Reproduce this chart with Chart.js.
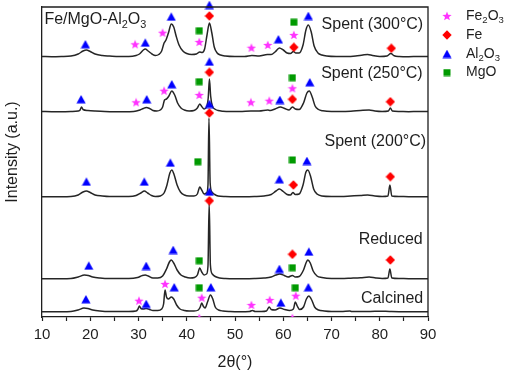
<!DOCTYPE html>
<html><head><meta charset="utf-8">
<script src="https://cdn.jsdelivr.net/npm/chart.js@4.4.1/dist/chart.umd.min.js"></script>
<style>html,body{margin:0;padding:0;background:#fff}#wrap{width:510px;height:373px;position:relative}</style>
</head><body><div id="wrap"><canvas id="c"></canvas></div>
<script>
// ---------------- DATA ----------------
const sampleNames = ['Spent (300°C)', 'Spent (250°C)', 'Spent (200°C)', 'Reduced', 'Calcined'];
const offsets = [260, 205, 120, 38, 5];
const xTicks = [10, 20, 30, 40, 50, 60, 70, 80, 90];

const spent300 = [[10,0.5],[12,0.3],[14,0.5],[16,1],[17.5,3],[18.5,6],[19.2,7],[20,5.5],[21,3],[22.5,1.5],[24,1],[26,0.5],[28,0.5],[29.5,1.5],[30.2,3],[31,7],[31.4,8],[32,6],[32.8,3],[33.5,1.5],[34.2,2.5],[34.8,6],[35.3,14],[35.7,17],[36.2,24],[36.8,33],[37.3,30],[37.8,21],[38.4,12],[39.2,6],[40,3.5],[41,2.5],[42,3],[42.7,5],[43.2,4.5],[43.7,8],[44.2,22],[44.7,34],[45.2,24],[45.7,10],[46.3,4],[47,2],[48,1],[50,0.5],[52,0.5],[53.5,1.5],[55,1],[56.7,2.5],[57.5,2.5],[58.3,5],[59.2,9],[60,7],[60.8,4],[61.5,3.5],[62.1,5.5],[62.6,4],[63.3,4],[64.1,12],[64.7,27],[65.2,32],[65.8,25],[66.4,11],[67.2,4],[68,2],[69,1],[71,0.5],[73,0.5],[75,1],[76.5,2],[77.5,2.5],[78.5,1.5],[80,0.5],[81.5,1],[82.3,3.5],[83,1.2],[84,0.5],[86,0.3],[88,0.5],[90,0.5]];
const spent250 = [[10,0.5],[12,0.3],[14,0.3],[16,0.5],[17.5,1],[17.9,2],[18.2,5],[18.5,2.5],[19.5,1.5],[21,1],[23,0.5],[25,0.3],[27,0.3],[29,0.5],[30.3,2],[31,3.5],[31.6,4.5],[32.3,3.5],[33,1.5],[33.8,1],[34.5,2],[35,5],[35.4,12],[35.8,13],[36.3,16],[36.9,21],[37.5,17],[38.1,9],[38.8,4],[39.5,2],[40.5,1],[41.5,1.5],[42.2,4],[42.7,8],[43.1,5.5],[43.6,3],[44.1,5],[44.45,14],[44.7,33],[44.95,16],[45.3,6],[45.8,3],[46.5,1.5],[47.5,0.8],[49,0.5],[51,0.5],[53.3,1],[55,1],[56.8,2],[57.3,1.5],[58.3,3],[59.4,5],[60.3,3.5],[61.2,2],[61.9,5],[62.5,3],[63.3,2.5],[64.2,9],[64.9,19],[65.4,21],[66,15],[66.6,6],[67.3,2.5],[68.2,1.2],[70,0.5],[72,0.5],[74,0.8],[76,1.5],[77.8,2],[79,1],[80.5,0.5],[81.8,1],[82.2,4],[82.6,1],[84,0.5],[86,0.3],[88,0.5],[90,0.5]];
const spent200 = [[10,0.3],[12,0.3],[14,0.3],[16,0.5],[17.5,2],[18.5,5],[19.2,6],[20,4.5],[21,2],[22.5,1],[24,0.5],[26,0.5],[28,0.5],[29.5,1.5],[30.5,4],[31.2,6],[31.9,4],[32.7,1.5],[33.5,0.5],[34.5,1],[35.3,4],[35.9,12],[36.5,24],[36.9,27],[37.4,22],[38,12],[38.7,5],[39.5,2],[40.5,1],[41.5,1],[42.2,3],[42.7,10],[43.1,7],[43.6,3],[44.1,4],[44.4,12],[44.6,79],[44.85,14],[45.2,5],[45.8,2.5],[46.5,1],[48,0.5],[50,0.3],[52,0.3],[54,0.5],[56,1],[57.5,2.5],[58.5,6],[59.2,8],[60,5.5],[60.8,2.5],[61.5,2],[62,4.5],[62.5,2.5],[63.3,3],[64.1,12],[64.7,25],[65.1,27],[65.7,20],[66.3,8],[67,3],[68,1],[70,0.5],[72,0.5],[74,1],[76,1.5],[77.5,2],[79,1],[80.5,0.5],[81.7,1],[82.1,12],[82.5,1],[84,0.5],[86,0.3],[88,0.3],[90,0.3]];
const reduced = [[10,0.3],[12,0.3],[14,0.3],[16,0.5],[17.5,2],[18.8,4],[19.6,3.5],[20.5,2],[22,1],[24,0.5],[26,0.5],[28,0.5],[29.8,1.5],[30.8,3.5],[31.4,4],[32,3],[33,1],[34,1],[35,3],[35.8,10],[36.4,17],[36.8,19],[37.3,16],[38,9],[38.8,4],[39.7,2],[40.7,1],[41.6,1.5],[42.2,4],[42.7,11],[43.1,7],[43.6,4],[44.1,5],[44.4,13],[44.65,76],[44.9,14],[45.3,5],[45.9,2.5],[46.8,1],[48,0.5],[50,0.3],[52,0.3],[54,0.5],[56,1],[57.5,2],[58.5,4],[59.3,5],[60.2,3.5],[61,2],[61.9,3.5],[62.5,2],[63.3,2.5],[64.2,9],[64.8,17],[65.1,19],[65.6,16],[66.2,8],[67,3],[68,1.5],[70,0.5],[72,0.5],[74,0.8],[76,1.2],[77.8,2],[79.2,1],[80.5,0.5],[81.7,1],[82.1,10],[82.5,1],[84,0.5],[86,0.3],[88,0.3],[90,0.3]];
const calcined = [[10,0.3],[12,0.3],[14,0.3],[16,0.5],[17.5,2],[18.7,4],[19.5,3.5],[20.5,2],[22,1],[24,0.5],[26,0.5],[28,0.5],[29.5,1],[29.9,3],[30.2,6],[30.5,3.5],[31,3],[31.6,3.5],[32.3,2.5],[33,1.5],[34,1.5],[34.8,3],[35.2,8],[35.5,22],[35.8,15],[36.2,13],[36.8,15],[37.3,13],[37.9,7],[38.6,3],[39.5,1.5],[40.5,1],[41.5,1],[42.4,2],[42.8,5],[43.1,9],[43.4,6],[43.8,4],[44.3,10],[44.9,17],[45.4,13],[45.9,5],[46.6,2],[47.5,1],[49,0.5],[51,0.3],[53,0.5],[53.6,1.5],[54.2,0.5],[55.5,0.5],[56.5,1],[57.1,5],[57.5,2.5],[58.3,2],[59.3,4],[60.3,2.5],[61.3,1.5],[62.1,3],[62.5,10],[62.9,6],[63.4,2.5],[64.2,5],[64.8,13],[65.3,16],[65.9,12],[66.5,5],[67.3,2],[68.5,1],[70,0.5],[72,0.5],[73.8,1],[74.2,0.5],[76,0.5],[78,0.5],[80,0.8],[82,0.5],[84,0.3],[86,0.3],[88,0.3],[90,0.3]];

// phase markers [2theta, intensity position]
const fe2o3Marks = [[29.3,272.7],[35.0,284.3],[42.6,275],[53.4,269.3],[56.8,272],[62.2,282],
  [29.5,214.7],[35.3,226.3],[42.6,222],[53.3,214.7],[57.1,216.3],[61.9,228.7],
  [30.1,16.3],[35.5,33],[43.1,19.3],[53.4,12],[57.2,17],[62.6,21.3]];
const fe2o3EdgeMarks = [[42.6,-1],[61.9,-1]];
const feMarks = [[44.7,301],[62.2,269.7],[82.4,268.7],
  [44.7,244.7],[61.9,217.7],[82.2,215.3],
  [44.7,204],[62.1,132],[82.2,140.3],
  [44.7,116.3],[61.9,62.7],[82.2,57]];
const al2o3Marks = [[19.0,272.7],[31.4,274.3],[36.8,300.3],[44.7,312],[59.0,277.7],[65.2,301],
  [18.1,217.7],[31.7,217.7],[36.9,232.7],[44.7,255.3],[59.3,217],[65.5,234.7],
  [19.2,135.3],[31.2,135.3],[36.6,154.3],[44.7,213],[59.2,137.7],[64.9,156],
  [19.7,51.3],[31.6,51],[37.2,67],[44.7,125.3],[59.2,48],[65.3,65.3],
  [19.1,17.7],[31.6,13],[37.4,29.7],[45.0,29.7],[59.5,14.3],[65.2,29.7]];
const mgoMarks = [[42.6,286.3],[62.2,294.7],[42.6,235.3],[61.9,239.3],[42.3,155.3],[61.9,157],
  [42.6,56.3],[61.9,49.3],[42.6,29.3],[62.5,29.3]];

const phaseNames = ['Fe_2O_3', 'Fe', 'Al_2O_3', 'MgO'];
const titleText = 'Fe/MgO-Al_2O_3';

// ---------------- STYLE ----------------
const FONT = "'Liberation Sans', Arial, Helvetica, sans-serif";
const INK = '#1e1e1e';
Chart.defaults.font.family = FONT;
Chart.defaults.color = INK;

function mk(w, h, fn) { const c = document.createElement('canvas'); c.width = w; c.height = h; const g = c.getContext('2d'); fn(g); return c; }
const starImg = mk(10, 10, g => { g.fillStyle = '#ff33ff'; g.beginPath();
  for (let i = 0; i < 10; i++) { const r = i % 2 ? 2.1 : 4.9; const a = -Math.PI / 2 + i * Math.PI / 5; g.lineTo(5 + r * Math.cos(a), 5.4 + r * Math.sin(a)); }
  g.closePath(); g.fill(); });
const diaImg = mk(10, 10, g => { g.fillStyle = '#ff0000'; g.beginPath(); g.moveTo(5, 0.3); g.lineTo(9.7, 5); g.lineTo(5, 9.7); g.lineTo(0.3, 5); g.closePath(); g.fill(); });
const triImg = mk(10, 9, g => { g.fillStyle = '#0000ff'; g.beginPath(); g.moveTo(5, 0.3); g.lineTo(9.6, 8.6); g.lineTo(0.4, 8.6); g.closePath(); g.fill(); });
const sqImg = mk(8, 8, g => { g.fillStyle = '#009a00'; g.fillRect(0.5, 0.5, 7, 7); });
const phaseImgs = [starImg, diaImg, triImg, sqImg];

const traces = [spent300, spent250, spent200, reduced, calcined];
const labelAnchors = [[89.0, 292], [88.9, 243], [89.6, 175.3], [88.9, 77.7], [89.0, 18.7]];

const datasets = [];
traces.forEach((t, i) => datasets.push({
  type: 'line', label: sampleNames[i],
  data: t.map(([x, y]) => ({ x, y: y + offsets[i] })),
  borderColor: '#262626', borderWidth: 1.5, pointRadius: 0, fill: false,
  cubicInterpolationMode: 'monotone', order: 2
}));
[fe2o3Marks, feMarks, al2o3Marks, mgoMarks].forEach((m, i) => datasets.push({
  type: 'scatter', label: phaseNames[i],
  data: m.map(([x, y]) => ({ x, y })),
  pointStyle: phaseImgs[i], pointRadius: 5, showLine: false, clip: false, order: 1
}));
datasets.push({
  type: 'scatter', label: 'Fe2O3 edge',
  data: fe2o3EdgeMarks.map(([x, y]) => ({ x, y })),
  pointStyle: starImg, pointRadius: 5, showLine: false, order: 3
});

function parts(s) { return s.split(/(_\d)/).filter(Boolean).map(p => p[0] === '_' ? [p.slice(1), true] : [p, false]); }
function drawRich(ctx, s, x, y, size, align) {
  const ps = parts(s); let w = 0;
  ps.forEach(([t, sub]) => { ctx.font = (sub ? size * 0.68 : size) + 'px ' + FONT; w += ctx.measureText(t).width; });
  let cx = align === 'right' ? x - w : x;
  ctx.textAlign = 'left'; ctx.textBaseline = 'middle';
  ps.forEach(([t, sub]) => { ctx.font = (sub ? size * 0.68 : size) + 'px ' + FONT; ctx.fillText(t, cx, y + (sub ? size * 0.3 : 0)); cx += ctx.measureText(t).width; });
}

const decor = {
  id: 'decor',
  afterDraw(chart) {
    const { ctx, chartArea: a, scales: { x, y } } = chart;
    ctx.save();
    ctx.strokeStyle = INK; ctx.lineWidth = 1.3;
    ctx.beginPath(); ctx.moveTo(a.left, a.top); ctx.lineTo(a.right, a.top); ctx.lineTo(a.right, a.bottom); ctx.stroke();
    ctx.fillStyle = INK;
    drawRich(ctx, titleText, x.getPixelForValue(10.5), y.getPixelForValue(297), 16, 'left');
    sampleNames.forEach((n, i) => drawRich(ctx, n, x.getPixelForValue(labelAnchors[i][0]), y.getPixelForValue(labelAnchors[i][1]), 16, 'right'));
    // y axis title
    ctx.save(); ctx.translate(13, 152); ctx.rotate(-Math.PI / 2);
    ctx.font = '16px ' + FONT; ctx.textAlign = 'center'; ctx.textBaseline = 'middle';
    ctx.fillText('Intensity (a.u.)', 0, 0); ctx.restore();
    // legend
    const rows = [16, 35, 54, 72.5];
    phaseNames.forEach((n, i) => {
      const img = phaseImgs[i];
      ctx.drawImage(img, 447 - img.width / 2, rows[i] - img.height / 2);
      drawRich(ctx, n, 466, rows[i], 14, 'left');
    });
    ctx.restore();
  }
};

new Chart(document.getElementById('c'), {
  data: { datasets },
  options: {
    responsive: true, maintainAspectRatio: false, animation: false, events: [],
    layout: { padding: { left: 0, top: 7, right: 82, bottom: 0 } },
    plugins: { legend: { display: false }, tooltip: { enabled: false } },
    scales: {
      x: {
        type: 'linear', min: 10, max: 90,
        afterFit: s => { s.height = 56; },
        afterBuildTicks: s => { const t = []; for (let v = 10; v <= 90; v += 5) t.push({ value: v }); s.ticks = t; },
        ticks: { callback: v => xTicks.includes(v) ? String(v) : '', font: { size: 15 }, color: INK, padding: 5, maxRotation: 0, autoSkip: false },
        grid: { drawOnChartArea: false, drawTicks: true, tickLength: 4, tickColor: INK, tickWidth: 1.2 },
        border: { display: true, color: INK, width: 1.3 },
        title: { display: true, text: '2θ(°)', font: { size: 16 }, color: INK, padding: { top: 0, bottom: 1 } }
      },
      y: {
        type: 'linear', min: 0, max: 310,
        afterFit: s => { s.width = 42; },
        ticks: { display: false },
        grid: { display: false },
        border: { display: true, color: INK, width: 1.3 }
      }
    }
  },
  plugins: [decor]
});
</script>
</body></html>
